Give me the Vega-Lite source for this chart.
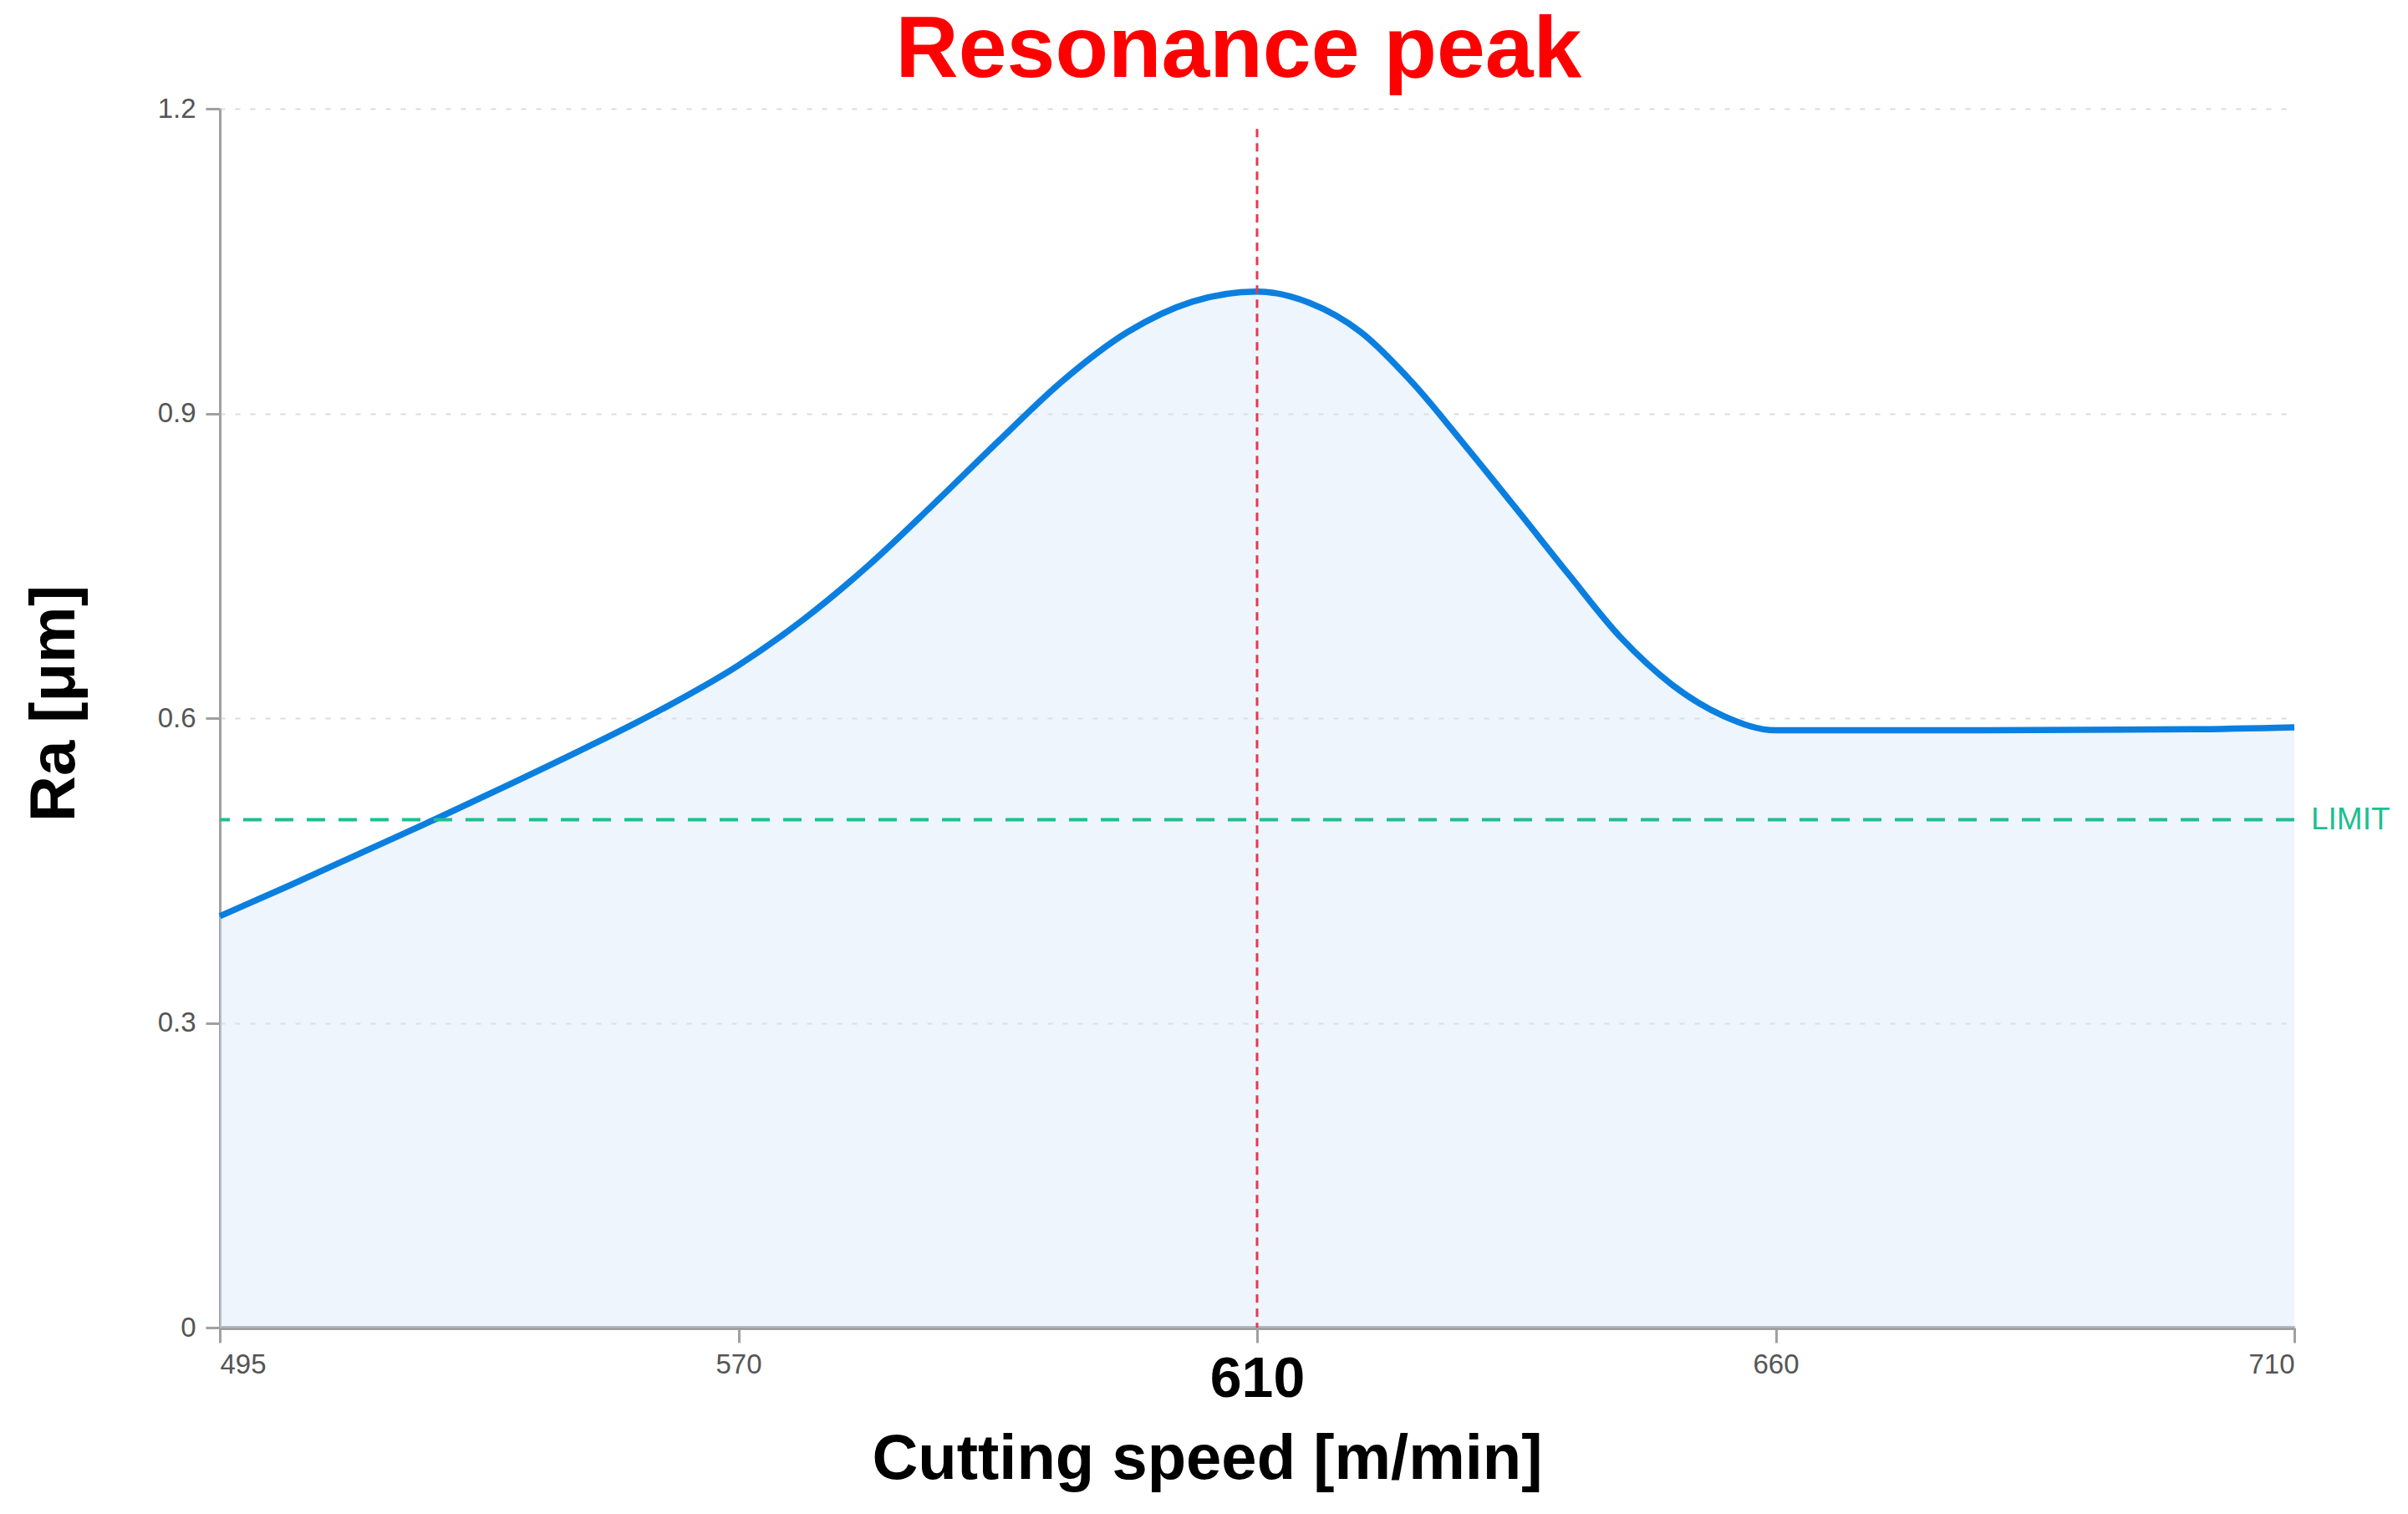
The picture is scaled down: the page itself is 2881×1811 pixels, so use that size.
{
  "$schema": "https://vega.github.io/schema/vega-lite/v6.json",
  "width": 2482,
  "height": 1458,
  "autosize": "none",
  "padding": {"left": 263, "top": 130, "right": 136, "bottom": 223},
  "background": "white",
  "title": {
    "text": "Resonance peak",
    "color": "#ff0000",
    "font": "Liberation Sans",
    "fontWeight": "bold",
    "fontSize": 104,
    "anchor": "middle",
    "baseline": "alphabetic",
    "offset": -82,
    "dx": -22
  },
  "datasets": {
    "curve": [
      {"speed": 495, "ra": 0.405},
      {"speed": 505, "ra": 0.435},
      {"speed": 515, "ra": 0.466},
      {"speed": 526, "ra": 0.500},
      {"speed": 537, "ra": 0.535},
      {"speed": 548, "ra": 0.571},
      {"speed": 559, "ra": 0.609},
      {"speed": 570, "ra": 0.652},
      {"speed": 575, "ra": 0.697},
      {"speed": 580, "ra": 0.750},
      {"speed": 585, "ra": 0.810},
      {"speed": 590, "ra": 0.872},
      {"speed": 595, "ra": 0.932},
      {"speed": 600, "ra": 0.980},
      {"speed": 605, "ra": 1.010},
      {"speed": 610, "ra": 1.020},
      {"speed": 615, "ra": 1.009},
      {"speed": 620, "ra": 0.980},
      {"speed": 625, "ra": 0.930},
      {"speed": 630, "ra": 0.869},
      {"speed": 635, "ra": 0.806},
      {"speed": 640, "ra": 0.742},
      {"speed": 645, "ra": 0.680},
      {"speed": 650, "ra": 0.633},
      {"speed": 655, "ra": 0.602},
      {"speed": 660, "ra": 0.588},
      {"speed": 680, "ra": 0.588},
      {"speed": 700, "ra": 0.589},
      {"speed": 710, "ra": 0.591}
    ],
    "limit": [{"speed": 710, "ra": 0.5, "label": "LIMIT"}],
    "peak": [{"speed": 610, "top": 1.18, "bottom": 0}]
  },
  "encoding": {
    "x": {
      "field": "speed",
      "type": "quantitative",
      "scale": {
        "domain": [495, 570, 610, 660, 710],
        "range": [0, 620.5, 1241, 1861.5, 2482],
        "nice": false,
        "zero": false
      },
      "axis": {
        "values": [495, 570, 610, 660, 710],
        "format": "d",
        "title": "Cutting speed [m/min]",
        "titleFont": "Liberation Sans",
        "titleFontWeight": "bold",
        "titleFontSize": 76,
        "titleColor": "#000000",
        "titleX": 1181,
        "titleY": 180,
        "titleBaseline": "alphabetic",
        "grid": false,
        "domainColor": "#a0a0a0",
        "domainWidth": 5,
        "tickColor": "#a0a0a0",
        "tickWidth": 3,
        "tickSize": 18,
        "labelPadding": 10,
        "labelFont": "Liberation Sans",
        "labelFontSize": {"expr": "datum.value == 610 ? 68 : 33"},
        "labelFontWeight": {"expr": "datum.value == 610 ? 'bold' : 'normal'"},
        "labelColor": {"expr": "datum.value == 610 ? '#000000' : '#555555'"}
      }
    },
    "y": {
      "field": "ra",
      "type": "quantitative",
      "scale": {"domain": [0, 1.2], "nice": false},
      "axis": {
        "values": [0, 0.3, 0.6, 0.9, 1.2],
        "format": "~g",
        "title": "Ra [μm]",
        "titleFont": "Liberation Sans",
        "titleFontWeight": "bold",
        "titleFontSize": 76,
        "titleColor": "#000000",
        "titleX": -175,
        "titleY": 711,
        "titleBaseline": "alphabetic",
        "grid": true,
        "gridColor": "#dcdcdc",
        "gridDash": [6, 12],
        "gridWidth": 2,
        "domainColor": "#a0a0a0",
        "domainWidth": 3,
        "tickColor": "#a0a0a0",
        "tickWidth": 3,
        "tickSize": 17,
        "labelPadding": 12,
        "labelFont": "Liberation Sans",
        "labelFontSize": 33,
        "labelColor": "#555555"
      }
    }
  },
  "layer": [
    {
      "data": {"name": "curve"},
      "mark": {"type": "area", "interpolate": "monotone", "color": "#d5e6fa", "opacity": 0.4}
    },
    {
      "data": {"name": "curve"},
      "mark": {"type": "line", "interpolate": "monotone", "color": "#0b7fe0", "strokeWidth": 7.5}
    },
    {
      "data": {"name": "limit"},
      "mark": {"type": "rule", "color": "#1dbf8f", "strokeWidth": 4, "strokeDash": [22, 16]},
      "encoding": {"x": null, "y": {"field": "ra", "type": "quantitative"}}
    },
    {
      "data": {"name": "limit"},
      "mark": {"type": "text", "align": "left", "baseline": "middle", "dx": 20, "font": "Liberation Sans", "fontSize": 37, "color": "#1dbf8f"},
      "encoding": {"text": {"field": "label"}}
    },
    {
      "data": {"name": "peak"},
      "mark": {"type": "rule", "color": "#e63950", "strokeWidth": 3, "strokeDash": [10, 7]},
      "encoding": {
        "y": {"field": "top", "type": "quantitative"},
        "y2": {"field": "bottom"}
      }
    }
  ],
  "config": {
    "view": {"stroke": null},
    "font": "Liberation Sans"
  }
}
